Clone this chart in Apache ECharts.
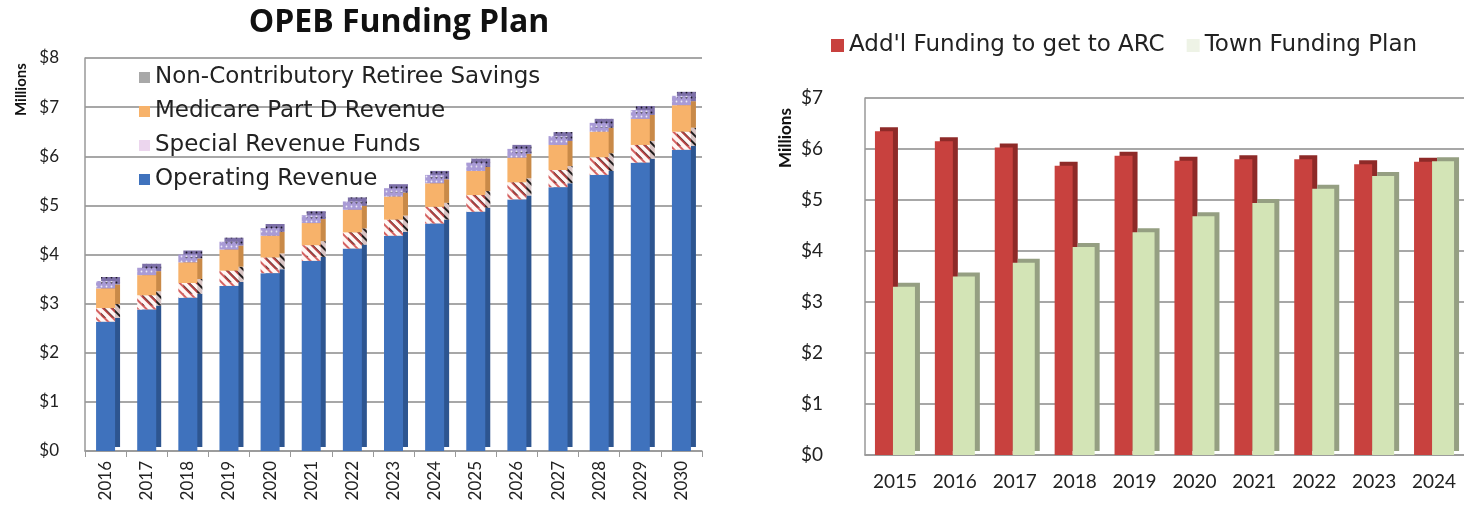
<!DOCTYPE html>
<html>
<head>
<meta charset="utf-8">
<script src="https://cdn.jsdelivr.net/npm/echarts@6/dist/echarts.min.js"></script>
<style>
  html, body { margin: 0; padding: 0; background: #fff; }
  #chart { width: 1464px; height: 511px; }
</style>
</head>
<body>
<div id="chart"></div>
<script>
// left chart - OPEB Funding Plan (stacked)
const planYears = ['2016', '2017', '2018', '2019', '2020', '2021', '2022', '2023', '2024', '2025', '2026', '2027', '2028', '2029', '2030']
const operatingRevenue = [2.63, 2.88, 3.12, 3.36, 3.62, 3.87, 4.12, 4.38, 4.63, 4.87, 5.12, 5.37, 5.62, 5.87, 6.13]
const specialRevenue = [0.28, 0.29, 0.30, 0.31, 0.32, 0.32, 0.33, 0.33, 0.34, 0.34, 0.35, 0.35, 0.36, 0.36, 0.37]
const medicareRevenue = [0.40, 0.41, 0.42, 0.43, 0.44, 0.45, 0.46, 0.47, 0.48, 0.49, 0.50, 0.51, 0.52, 0.53, 0.54]
const retireeSavings = [0.15, 0.15, 0.16, 0.16, 0.16, 0.16, 0.17, 0.17, 0.17, 0.17, 0.18, 0.18, 0.18, 0.18, 0.19]
const leftTicks = ['$0', '$1', '$2', '$3', '$4', '$5', '$6', '$7', '$8']

// right chart - ARC vs town plan
const arcYears = ['2015', '2016', '2017', '2018', '2019', '2020', '2021', '2022', '2023', '2024']
const addlFunding = [6.35, 6.15, 6.03, 5.67, 5.87, 5.77, 5.80, 5.80, 5.70, 5.75]
const townPlan = [3.30, 3.50, 3.77, 4.08, 4.37, 4.68, 4.94, 5.22, 5.47, 5.76]
const rightTicks = ['$0', '$1', '$2', '$3', '$4', '$5', '$6', '$7']

const font = 'Lato'
const wideFont = 'DejaVu Sans'
let myChart = echarts.init(document.getElementById('chart'))

// fake 3d side face with a hard offset shadow
function side (color) {
  return { shadowColor: color, shadowBlur: 0, shadowOffsetX: 5, shadowOffsetY: -4 }
}

myChart.setOption({
  animation: false,
  textStyle: { fontFamily: font },
  title: {
    text: 'OPEB Funding Plan',
    left: 394,
    top: 2,
    textAlign: 'center',
    textStyle: { fontFamily: 'Open Sans', fontSize: 32, fontWeight: 'bold', color: '#111' }
  },
  legend: [{
    orient: 'vertical',
    left: 134,
    top: 61,
    itemGap: 11,
    itemWidth: 11,
    itemHeight: 11,
    icon: 'rect',
    textStyle: { fontSize: 23, color: '#222', fontFamily: wideFont },
    data: [
      { name: 'Non-Contributory Retiree Savings', itemStyle: { color: '#a8a8a8', decal: 'none' } },
      { name: 'Medicare Part D Revenue', itemStyle: { color: '#f7b26a' } },
      { name: 'Special Revenue Funds', itemStyle: { color: '#ecd6ee', decal: 'none' } },
      { name: 'Operating Revenue', itemStyle: { color: '#3f72bd' } }
    ]
  }, {
    left: 826,
    top: 29,
    itemGap: 22,
    itemWidth: 13,
    itemHeight: 13,
    icon: 'rect',
    textStyle: { fontSize: 23, color: '#222', fontFamily: wideFont },
    data: [
      { name: "Add'l Funding to get to ARC", itemStyle: { color: '#c8413e' } },
      { name: 'Town Funding Plan', itemStyle: { color: '#eef3e6' } }
    ]
  }],
  graphic: [{
    type: 'text',
    x: 14,
    y: 116,
    rotation: Math.PI / 2,
    style: { text: 'Millions', font: 'bold 15px Lato', fill: '#111' }
  }, {
    type: 'text',
    x: 777,
    y: 168,
    rotation: Math.PI / 2,
    style: { text: 'Millions', font: 'bold 17px Lato', fill: '#111' }
  }],
  grid: [
    { left: 85, width: 617, top: 58, height: 393 },
    { left: 865, width: 602, top: 98, height: 357 }
  ],
  xAxis: [{
    gridIndex: 0,
    type: 'category',
    data: planYears,
    axisLine: { lineStyle: { color: '#999', width: 1.5 } },
    axisTick: { show: true, length: 6, lineStyle: { color: '#999' } },
    axisLabel: { rotate: 90, fontSize: 17, color: '#222', margin: 10 }
  }, {
    gridIndex: 1,
    type: 'category',
    data: arcYears,
    axisLine: { lineStyle: { color: '#999', width: 1.5 } },
    axisTick: { show: false },
    axisLabel: { fontSize: 19, color: '#222', margin: 17 }
  }],
  yAxis: [{
    gridIndex: 0,
    type: 'value',
    min: 0,
    max: 8,
    interval: 1,
    axisLine: { show: true, lineStyle: { color: '#999', width: 1.5 } },
    axisTick: { show: false },
    splitLine: { lineStyle: { color: '#8a8a8a', width: 1.5 } },
    axisLabel: { fontSize: 17, color: '#222', margin: 26, formatter: v => leftTicks[v] }
  }, {
    gridIndex: 1,
    type: 'value',
    min: 0,
    max: 7,
    interval: 1,
    axisLine: { show: true, lineStyle: { color: '#999', width: 1.5 } },
    axisTick: { show: false },
    splitLine: { lineStyle: { color: '#8a8a8a', width: 1.5 } },
    axisLabel: { fontSize: 19, color: '#222', margin: 42, formatter: v => rightTicks[v] }
  }],
  series: [{
    name: 'Operating Revenue',
    type: 'bar',
    stack: 'plan',
    xAxisIndex: 0,
    yAxisIndex: 0,
    barWidth: 19,
    itemStyle: Object.assign({ color: '#3f72bd' }, side('#2d5590')),
    data: operatingRevenue
  }, {
    name: 'Special Revenue Funds',
    type: 'bar',
    stack: 'plan',
    xAxisIndex: 0,
    yAxisIndex: 0,
    barWidth: 19,
    itemStyle: Object.assign({
      color: '#fff6f4',
      decal: {
        symbol: 'rect',
        color: 'rgba(205, 70, 70, 0.85)',
        dashArrayX: [1, 0],
        dashArrayY: [2, 4],
        rotation: Math.PI / 4
      }
    }, side('#d8c4c4')),
    data: specialRevenue
  }, {
    name: 'Medicare Part D Revenue',
    type: 'bar',
    stack: 'plan',
    xAxisIndex: 0,
    yAxisIndex: 0,
    barWidth: 19,
    itemStyle: Object.assign({ color: '#f7b26a' }, side('#c98a48')),
    data: medicareRevenue
  }, {
    name: 'Non-Contributory Retiree Savings',
    type: 'bar',
    stack: 'plan',
    xAxisIndex: 0,
    yAxisIndex: 0,
    barWidth: 19,
    itemStyle: Object.assign({
      color: '#a99bd6',
      decal: {
        symbol: 'circle',
        symbolSize: 0.6,
        color: 'rgba(255, 255, 255, 0.8)',
        dashArrayX: [3, 2],
        dashArrayY: [3, 2]
      }
    }, side('#7d70a8')),
    data: retireeSavings
  }, {
    name: "Add'l Funding to get to ARC",
    type: 'bar',
    xAxisIndex: 1,
    yAxisIndex: 1,
    barWidth: 18,
    barGap: '0%',
    itemStyle: Object.assign({ color: '#c8413e' }, side('#8e2a28')),
    data: addlFunding
  }, {
    name: 'Town Funding Plan',
    type: 'bar',
    xAxisIndex: 1,
    yAxisIndex: 1,
    barWidth: 22,
    barGap: '0%',
    itemStyle: Object.assign({ color: '#d3e4b6' }, side('#959f82')),
    data: townPlan
  }]
})
</script>
</body>
</html>
